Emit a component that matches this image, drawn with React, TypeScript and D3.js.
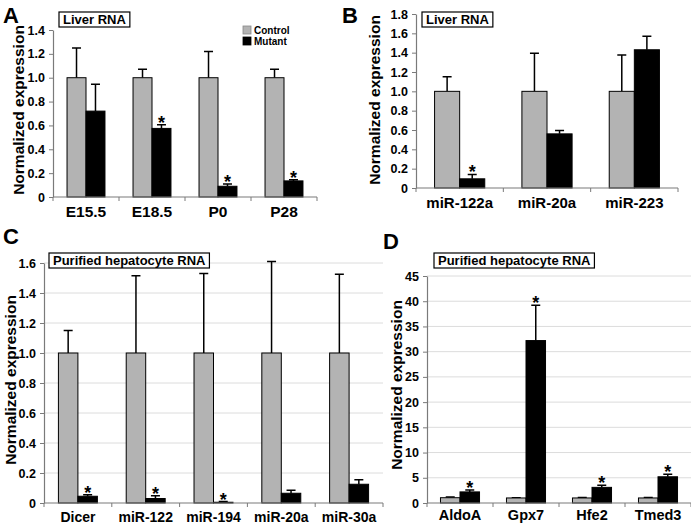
import React, { useEffect, useRef } from 'react'
import * as d3 from 'd3'

// Panel A - liver RNA, time course
const aCats = ['E15.5', 'E18.5', 'P0', 'P28']
const aControl = [1, 1, 1, 1]
const aControlErr = [1.25, 1.07, 1.22, 1.07]
const aMutant = [0.72, 0.575, 0.09, 0.135]
const aMutantErr = [0.945, 0.605, 0.11, 0.145]
const aStars = [false, true, true, true]

// Panel B - liver RNA, miRNAs
const bCats = ['miR-122a', 'miR-20a', 'miR-223']
const bControl = [1, 1, 1]
const bControlErr = [1.15, 1.395, 1.375]
const bMutant = [0.095, 0.56, 1.43]
const bMutantErr = [0.14, 0.595, 1.57]
const bStars = [true, false, false]

// Panel C - purified hepatocyte RNA
const cCats = ['Dicer', 'miR-122', 'miR-194', 'miR-20a', 'miR-30a']
const cControl = [1, 1, 1, 1, 1]
const cControlErr = [1.15, 1.515, 1.53, 1.61, 1.525]
const cMutant = [0.045, 0.03, 0.005, 0.065, 0.125]
const cMutantErr = [0.055, 0.048, 0.01, 0.085, 0.155]
const cStars = [true, true, true, false, false]

// Panel D - purified hepatocyte RNA, up-regulated genes
const dCats = ['AldoA', 'Gpx7', 'Hfe2', 'Tmed3']
const dControl = [1.05, 1.0, 1.0, 1.0]
const dControlErr = [1.2, 1.05, 1.1, 1.1]
const dMutant = [2.2, 32.2, 3.1, 5.2]
const dMutantErr = [2.6, 39.2, 3.5, 5.7]
const dStars = [true, true, true, true]

const aTicks = [0, 0.2, 0.4, 0.6, 0.8, 1.0, 1.2, 1.4]
const bTicks = [0, 0.2, 0.4, 0.6, 0.8, 1.0, 1.2, 1.4, 1.6, 1.8]
const cTicks = [0, 0.2, 0.4, 0.6, 0.8, 1.0, 1.2, 1.4, 1.6]
const dTicks = [0, 5, 10, 15, 20, 25, 30, 35, 40, 45]

const seriesNames = ['Control', 'Mutant']
const seriesColors = ['#b3b3b3', '#000000']

const FONT = '"Liberation Sans", Arial, Helvetica, sans-serif'
const AXIS = '#7a7a7a'

const decFmt = (d) => (d === 0 ? '0' : d3.format('.1f')(d))
const intFmt = d3.format('d')

const panels = [
  {
    letter: 'A', letterPos: [3, 23], title: 'Liver RNA', titlePos: [59, 12],
    cats: aCats, ctrl: aControl, ctrlErr: aControlErr, mut: aMutant, mutErr: aMutantErr, stars: aStars,
    x0: 53, x1: 317, yTop: 30, yBottom: 197, ticks: aTicks, fmt: decFmt, grid: false,
    ylab: [18, 110], xlabY: 217, xlabSize: 15.5, pad: 0.74, legend: [243, 26]
  },
  {
    letter: 'B', letterPos: [342, 23], title: 'Liver RNA', titlePos: [422, 12],
    cats: bCats, ctrl: bControl, ctrlErr: bControlErr, mut: bMutant, mutErr: bMutantErr, stars: bStars,
    x0: 416, x1: 678, yTop: 14, yBottom: 188, ticks: bTicks, fmt: decFmt, grid: false,
    ylab: [374, 100], xlabY: 208, xlabSize: 15, pad: 0.74
  },
  {
    letter: 'C', letterPos: [3, 244], title: 'Purified hepatocyte RNA', titlePos: [49, 253],
    cats: cCats, ctrl: cControl, ctrlErr: cControlErr, mut: cMutant, mutErr: cMutantErr, stars: cStars,
    x0: 44, x1: 383, yTop: 263, yBottom: 503, ticks: cTicks, fmt: decFmt, grid: true,
    ylab: [10, 380], xlabY: 522, xlabSize: 14, pad: 0.74
  },
  {
    letter: 'D', letterPos: [383, 249], title: 'Purified hepatocyte RNA', titlePos: [434, 253],
    cats: dCats, ctrl: dControl, ctrlErr: dControlErr, mut: dMutant, mutErr: dMutantErr, stars: dStars,
    x0: 427, x1: 691, yTop: 276, yBottom: 503, ticks: dTicks, fmt: intFmt, grid: true,
    ylab: [396, 385], xlabY: 520, xlabSize: 14.5, pad: 0.69
  }
]

function drawPanel(svg, p) {
  const g = svg.append('g')
  const yMax = p.ticks[p.ticks.length - 1]
  const y = d3.scaleLinear().domain([0, yMax]).range([p.yBottom, p.yTop])
  const x = d3.scaleBand().domain(p.cats).range([p.x0, p.x1]).paddingInner(0).paddingOuter(0)
  const xs = d3.scaleBand().domain(seriesNames).range([0, x.bandwidth()]).paddingInner(0).paddingOuter(p.pad)

  // gridlines
  if (p.grid) {
    g.selectAll('.grid').data(p.ticks.filter((t) => t > 0)).enter().append('line')
      .attr('x1', p.x0).attr('x2', p.x1)
      .attr('y1', (d) => y(d)).attr('y2', (d) => y(d))
      .attr('stroke', '#dcdcdc').attr('stroke-width', 1)
  }

  // bars
  const rows = p.cats.map((c, i) => ({
    cat: c,
    vals: [
      { s: 'Control', v: p.ctrl[i], e: p.ctrlErr[i], star: false },
      { s: 'Mutant', v: p.mut[i], e: p.mutErr[i], star: p.stars[i] }
    ]
  }))
  const grp = g.selectAll('.bar').data(rows).enter().append('g')
    .attr('transform', (d) => 'translate(' + x(d.cat) + ',0)')

  // error whiskers (upper only)
  grp.selectAll('.err').data((d) => d.vals).enter().append('path')
    .attr('d', (d) => {
      const cx = xs(d.s) + xs.bandwidth() / 2
      return 'M' + cx + ',' + y(d.v) + 'V' + y(d.e) + 'M' + (cx - 4.5) + ',' + y(d.e) + 'H' + (cx + 4.5)
    })
    .attr('stroke', '#000').attr('stroke-width', 1.5).attr('fill', 'none')

  grp.selectAll('rect').data((d) => d.vals).enter().append('rect')
    .attr('x', (d) => xs(d.s))
    .attr('y', (d) => y(d.v))
    .attr('width', xs.bandwidth())
    .attr('height', (d) => y(0) - y(d.v))
    .attr('fill', (d, i) => seriesColors[i])
    .attr('stroke', '#000').attr('stroke-width', 1)

  grp.selectAll('.star').data((d) => d.vals.filter((v) => v.star)).enter().append('text')
    .attr('x', (d) => xs(d.s) + xs.bandwidth() / 2)
    .attr('y', (d) => y(d.e) + 4)
    .attr('text-anchor', 'middle')
    .attr('font-family', FONT).attr('font-weight', 'bold').attr('font-size', 18)
    .text('*')

  // y axis
  const yAxis = d3.axisLeft(y).tickValues(p.ticks).tickFormat(p.fmt).tickSize(4).tickSizeOuter(0).tickPadding(4)
  const ya = g.append('g').attr('transform', 'translate(' + p.x0 + ',0)').call(yAxis)
  ya.select('.domain').attr('stroke', AXIS).attr('stroke-width', 1.2)
  ya.selectAll('line').attr('stroke', AXIS)
  ya.selectAll('text').attr('font-family', FONT).attr('font-weight', 'bold').attr('font-size', 12.5).attr('fill', '#000')

  // x axis with ticks at category boundaries
  g.append('line').attr('x1', p.x0).attr('x2', p.x1).attr('y1', y(0)).attr('y2', y(0))
    .attr('stroke', AXIS).attr('stroke-width', 1.2)
  const bounds = d3.range(p.cats.length + 1).map((i) => p.x0 + i * x.step())
  g.selectAll('.xt').data(bounds).enter().append('line')
    .attr('x1', (d) => d).attr('x2', (d) => d)
    .attr('y1', y(0)).attr('y2', y(0) + 4)
    .attr('stroke', AXIS)
  g.selectAll('.xl').data(p.cats).enter().append('text')
    .attr('x', (d) => x(d) + x.bandwidth() / 2)
    .attr('y', p.xlabY)
    .attr('text-anchor', 'middle')
    .attr('font-family', FONT).attr('font-weight', 'bold').attr('font-size', p.xlabSize)
    .text((d) => d)

  // y label
  g.append('text')
    .attr('transform', 'translate(' + p.ylab[0] + ',' + p.ylab[1] + ') rotate(-90)')
    .attr('text-anchor', 'middle').attr('dominant-baseline', 'central')
    .attr('font-family', FONT).attr('font-weight', 'bold').attr('font-size', 15.5)
    .text('Normalized expression')

  // panel letter
  g.append('text').attr('x', p.letterPos[0]).attr('y', p.letterPos[1])
    .attr('font-family', FONT).attr('font-weight', 'bold').attr('font-size', 22)
    .text(p.letter)

  // title box
  const tg = g.append('g')
  const tt = tg.append('text').attr('x', p.titlePos[0] + 4).attr('y', p.titlePos[1] + 11.8)
    .attr('font-family', FONT).attr('font-weight', 'bold').attr('font-size', 13)
    .text(p.title)
  const tw = tt.node().getComputedTextLength()
  tg.insert('rect', 'text').attr('x', p.titlePos[0]).attr('y', p.titlePos[1])
    .attr('width', tw + 8).attr('height', 15)
    .attr('fill', '#fff').attr('stroke', '#000').attr('stroke-width', 1.2)

  // legend
  if (p.legend) {
    const lg = g.append('g').attr('transform', 'translate(' + p.legend[0] + ',' + p.legend[1] + ')')
    seriesNames.forEach((s, i) => {
      lg.append('rect').attr('x', 0).attr('y', i * 11).attr('width', 8).attr('height', 8)
        .attr('fill', seriesColors[i]).attr('stroke', i === 0 ? '#888' : '#000').attr('stroke-width', 0.8)
      lg.append('text').attr('x', 11).attr('y', i * 11 + 8)
        .attr('font-family', FONT).attr('font-weight', 'bold').attr('font-size', 10)
        .text(s)
    })
  }
}

export default function App() {
  const ref = useRef(null)
  useEffect(() => {
    const svg = d3.select(ref.current)
    svg.selectAll('*').remove()
    panels.forEach((p) => drawPanel(svg, p))
  }, [])
  return (
    <svg
      ref={ref}
      width={691}
      height={525}
      style={{ position: 'absolute', left: 0, top: 0, background: '#fff' }}
    />
  )
}
